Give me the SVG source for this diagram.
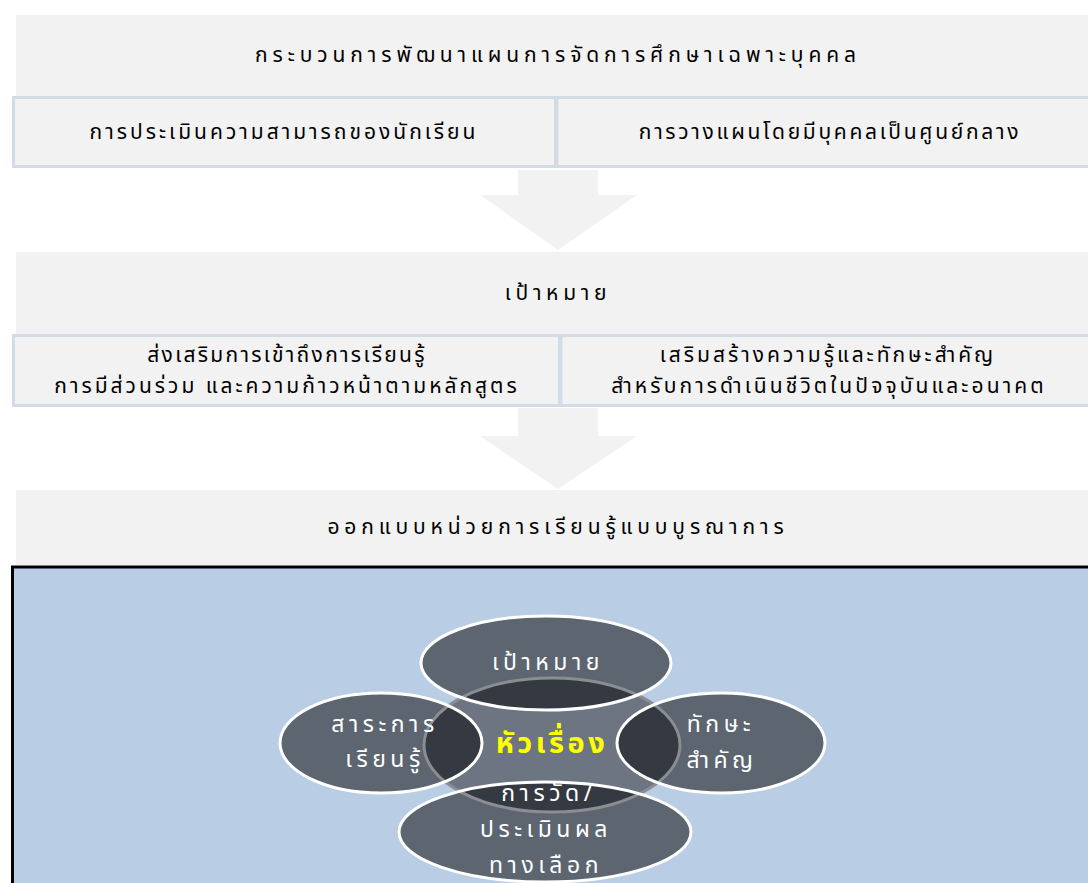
<svg xmlns="http://www.w3.org/2000/svg" width="1088" height="883" viewBox="0 0 1088 883">
<style>
.band{fill:#f2f2f2}
.sub{fill:#f2f2f2;stroke:#d3dbe7;stroke-width:3}
.arrow{fill:#f2f2f2}
.t{font-family:"Noto Sans Thai","Loma","Garuda","Noto Sans",sans-serif;font-size:21px;fill:#000;text-anchor:middle}
.w{font-family:"Noto Sans Thai","Loma","Garuda","Noto Sans",sans-serif;font-size:23px;fill:#fff;text-anchor:middle;letter-spacing:4.5px}
.y{font-family:"Noto Sans Thai","Loma","Garuda","Noto Sans",sans-serif;font-size:29px;font-weight:bold;fill:#ffff00;text-anchor:middle;letter-spacing:3.5px}
.outer{fill:#5c6570}
.ring{fill:none;stroke:#ffffff;stroke-width:3}
</style>
<defs>
<clipPath id="cc"><ellipse cx="552" cy="745" rx="128" ry="67"/></clipPath>
</defs>
<rect width="1088" height="883" fill="#ffffff"/>

<g id="band1">
<rect class="band" x="16" y="15" width="1072" height="82"/>
<text class="t" x="558" y="62" style="letter-spacing:4.9px">กระบวนการพัฒนาแผนการจัดการศึกษาเฉพาะบุคคล</text>
</g>
<g id="assess">
<rect class="sub" x="13.5" y="97.5" width="542" height="69"/>
<text class="t" x="284" y="139" style="letter-spacing:3px">การประเมินความสามารถของนักเรียน</text>
</g>
<g id="plan">
<rect class="sub" x="557" y="97.5" width="535" height="69"/>
<text class="t" x="830" y="139" style="letter-spacing:2.7px">การวางแผนโดยมีบุคคลเป็นศูนย์กลาง</text>
</g>

<g id="band2">
<rect class="band" x="16" y="252" width="1072" height="82"/>
<text class="t" x="558" y="300" style="letter-spacing:4.7px">เป้าหมาย</text>
</g>
<g id="goal1">
<rect class="sub" x="13.5" y="335.5" width="546" height="70"/>
<text class="t" x="287" y="362" style="letter-spacing:2.3px">ส่งเสริมการเข้าถึงการเรียนรู้</text>
<text class="t" x="287" y="393" style="letter-spacing:3px">การมีส่วนร่วม และความก้าวหน้าตามหลักสูตร</text>
</g>
<g id="goal2">
<rect class="sub" x="561" y="335.5" width="531" height="70"/>
<text class="t" x="828" y="362" style="letter-spacing:3px">เสริมสร้างความรู้และทักษะสำคัญ</text>
<text class="t" x="829" y="393" style="letter-spacing:3.1px">สำหรับการดำเนินชีวิตในปัจจุบันและอนาคต</text>
</g>

<g id="band3">
<rect class="band" x="16" y="490" width="1072" height="75"/>
<text class="t" x="558" y="534" style="letter-spacing:4.9px">ออกแบบหน่วยการเรียนรู้แบบบูรณาการ</text>
</g>

<g id="connectors">
<polygon class="arrow" points="518,170 598,170 598,195 637,195 558,250 480,195 518,195"/>
<polygon class="arrow" points="518,408 598,408 598,436 637,436 558,489 480,436 518,436"/>
</g>

<g id="panel">
<rect x="12.5" y="567" width="1080" height="320" fill="#b9cde4" stroke="#000" stroke-width="3"/>
</g>

<g id="topic-diagram">
<ellipse cx="552" cy="745" rx="128" ry="67" fill="#6c7581"/>
<ellipse class="outer" cx="546" cy="663" rx="125" ry="47"/>
<ellipse class="outer" cx="381" cy="743" rx="101" ry="50"/>
<ellipse class="outer" cx="721" cy="743" rx="104" ry="50"/>
<ellipse class="outer" cx="545" cy="832" rx="146" ry="50"/>
<g clip-path="url(#cc)" fill="#353a42">
<ellipse cx="546" cy="663" rx="125" ry="47"/>
<ellipse cx="381" cy="743" rx="101" ry="50"/>
<ellipse cx="721" cy="743" rx="104" ry="50"/>
<ellipse cx="545" cy="832" rx="146" ry="50"/>
</g>
<ellipse cx="552" cy="745" rx="128" ry="67" fill="none" stroke="#8a8d92" stroke-width="3"/>
<ellipse class="ring" cx="546" cy="663" rx="125" ry="47"/>
<ellipse class="ring" cx="381" cy="743" rx="101" ry="50"/>
<ellipse class="ring" cx="721" cy="743" rx="104" ry="50"/>
<ellipse class="ring" cx="545" cy="832" rx="146" ry="50"/>
</g>

<g id="n-goal"><text class="w" x="548" y="670">เป้าหมาย</text></g>
<g id="n-content"><text class="w" x="385" y="732">สาระการ</text><text class="w" x="385" y="767">เรียนรู้</text></g>
<g id="n-topic"><text class="y" x="552" y="753">หัวเรื่อง</text></g>
<g id="n-skill"><text class="w" x="721" y="732">ทักษะ</text><text class="w" x="722" y="768">สำคัญ</text></g>
<g id="n-assess"><text class="w" x="549" y="801">การวัด/</text><text class="w" x="546" y="837">ประเมินผล</text><text class="w" x="546" y="873">ทางเลือก</text></g>
</svg>
